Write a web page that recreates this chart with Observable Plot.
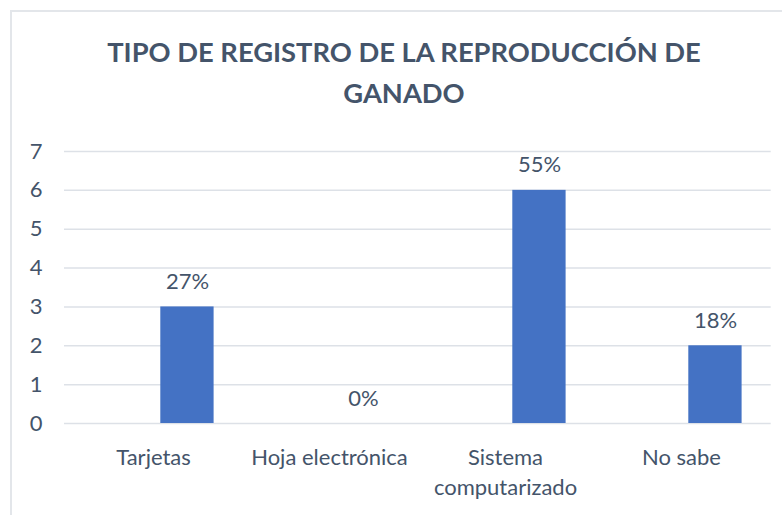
<!DOCTYPE html>
<html><head><meta charset="utf-8">
<script src="https://cdn.jsdelivr.net/npm/d3@7"></script>
<script src="https://cdn.jsdelivr.net/npm/@observablehq/plot@0.6"></script>
<style>
body{margin:0;width:782px;height:515px;overflow:hidden;background:#fff;font-family:Lato,sans-serif;position:relative}
#frame{position:absolute;left:10px;top:10px;width:788px;height:600px;border:2px solid #e3e6ea;box-sizing:border-box}
#title{position:absolute;left:10px;width:788px;top:31px;margin:0;text-align:center;font-weight:bold;color:#44546A;font-size:27.3px;line-height:41px}
#chart{position:absolute;left:0;top:120px}
</style>
</head><body>
<div id="frame"></div>
<h1 id="title">TIPO DE REGISTRO DE LA REPRODUCCIÓN DE<br>GANADO</h1>
<div id="chart"></div>
<script>
const categories = ["Tarjetas", "Hoja electrónica", "Sistema\ncomputarizado", "No sabe"];
const counts = [3, 0, 6, 2];
const percentLabels = ["27%", "0%", "55%", "18%"];
const yTicks = [0, 1, 2, 3, 4, 5, 6, 7];

const data = categories.map((c, i) => ({cat: c, count: counts[i], pct: percentLabels[i]}));

const chart = Plot.plot({
  width: 782,
  height: 395,
  marginLeft: 64,
  marginRight: 11.3,
  marginTop: 31,
  marginBottom: 92,
  style: {fontSize: "22px", fontFamily: "Lato, sans-serif", color: "#44546A", background: "transparent"},
  x: {domain: categories, padding: 0, label: null},
  y: {domain: [0, 7], label: null},
  marks: [
    Plot.gridY(yTicks, {stroke: "#dde1e7", strokeOpacity: 1, strokeWidth: 1.5}),
    Plot.axisY(yTicks, {tickSize: 0, tickPadding: 22, label: null}),
    Plot.axisX({tickSize: 0, tickPadding: 20, label: null, lineHeight: 1.38}),
    Plot.barY(data, {x: "cat", y: "count", fill: "#4472C4", insetLeft: 95.3, insetRight: 27.4}),
    Plot.text(data, {x: "cat", y: "count", text: "pct", dx: 34, dy: -18, lineAnchor: "bottom", fill: "#44546A"})
  ]
});
document.getElementById("chart").appendChild(chart);
</script>
</body></html>
